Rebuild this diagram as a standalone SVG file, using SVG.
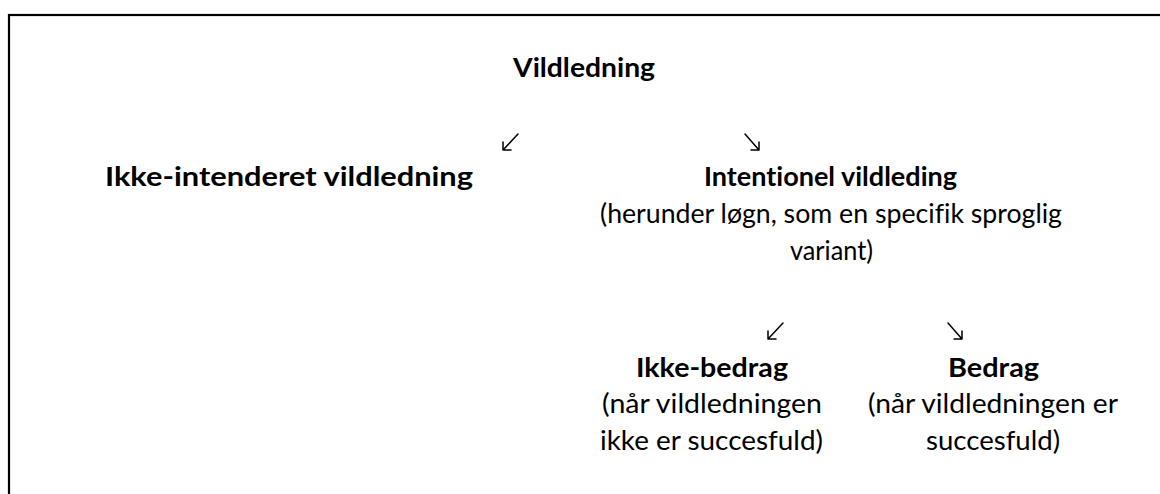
<svg xmlns="http://www.w3.org/2000/svg" width="1160" height="494" viewBox="0 0 1160 494">
  <style>
    text { font-family: Lato, "Noto Sans", "Liberation Sans", sans-serif; font-size: 26.5px; fill: #000; text-anchor: middle; font-variant-ligatures: none; }
    .b { font-weight: bold; }
    .arrow { stroke: #000; stroke-width: 1.5; fill: none; stroke-linecap: round; stroke-linejoin: round; }
  </style>
  <rect x="9" y="15" width="1200" height="500" fill="#fff" stroke="#000" stroke-width="2.2"/>
  <g id="connectors">
    <path class="arrow" d="M518,134 L503,150 M503,142 L503,150 L511,150"/>
    <path class="arrow" d="M745,134 L759,150 M751,150 L759,150 L759,142"/>
    <path class="arrow" d="M783,323 L768,339 M768,331 L768,339 L776,339"/>
    <path class="arrow" d="M948,323 L962,339 M954,339 L962,339 L962,331"/>
  </g>
  <g id="node-vildledning">
    <text class="b" x="584" y="77" textLength="142" lengthAdjust="spacingAndGlyphs">Vildledning</text>
  </g>
  <g id="node-ikke-intenderet">
    <text class="b" x="289" y="186" textLength="368" lengthAdjust="spacingAndGlyphs">Ikke-intenderet vildledning</text>
  </g>
  <g id="node-intentionel">
    <text class="b" x="830.5" y="186" textLength="253" lengthAdjust="spacingAndGlyphs">Intentionel vildleding</text>
    <text x="831" y="223" textLength="462" lengthAdjust="spacingAndGlyphs">(herunder løgn, som en specifik sproglig</text>
    <text x="831.5" y="260" textLength="83" lengthAdjust="spacingAndGlyphs">variant)</text>
  </g>
  <g id="node-ikke-bedrag">
    <text class="b" x="712" y="377" textLength="152" lengthAdjust="spacingAndGlyphs">Ikke-bedrag</text>
    <text x="712" y="413" textLength="220" lengthAdjust="spacingAndGlyphs">(når vildledningen</text>
    <text x="711.5" y="450" textLength="223" lengthAdjust="spacingAndGlyphs">ikke er succesfuld)</text>
  </g>
  <g id="node-bedrag">
    <text class="b" x="993.5" y="377" textLength="91" lengthAdjust="spacingAndGlyphs">Bedrag</text>
    <text x="993" y="413" textLength="250" lengthAdjust="spacingAndGlyphs">(når vildledningen er</text>
    <text x="993" y="450" textLength="134" lengthAdjust="spacingAndGlyphs">succesfuld)</text>
  </g>
</svg>
